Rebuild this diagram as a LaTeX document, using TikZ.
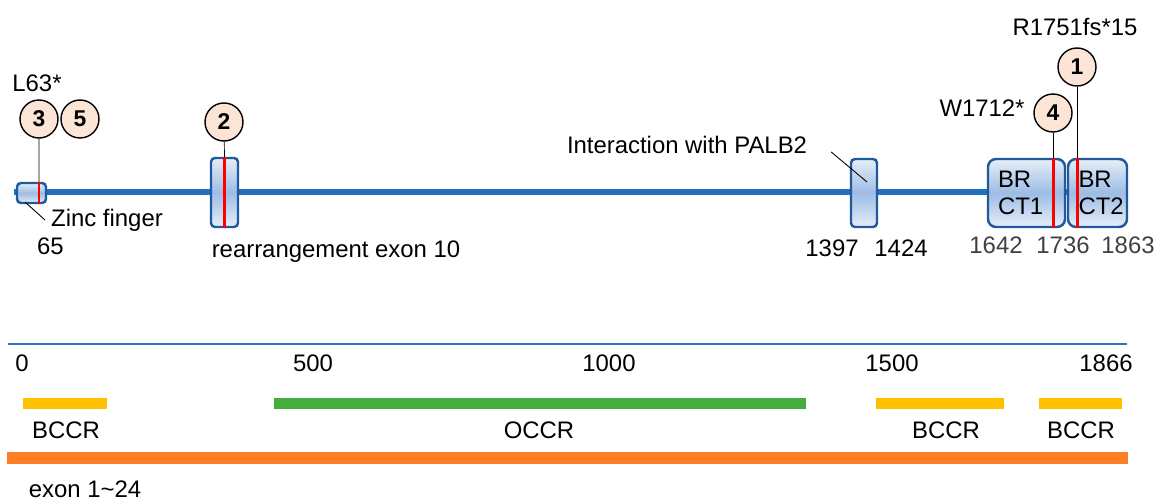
\documentclass[tikz,border=0pt]{standalone}
\usepackage{fontspec}
\setmainfont{Liberation Sans}
\usepackage{xcolor}
\usepackage{tikz}
\usetikzlibrary{positioning}
\usetikzlibrary{calc}

\definecolor{protblue}{HTML}{1F70C1}
\definecolor{domblue}{HTML}{1F5A9C}
\definecolor{domlight}{HTML}{E6EEF8}
\definecolor{dommid}{HTML}{9DBCE4}
\definecolor{peach}{HTML}{FCE4D6}
\definecolor{scaleblue}{HTML}{2E75C6}
\definecolor{bccr}{HTML}{FFC000}
\definecolor{occr}{HTML}{43AE3B}
\definecolor{exon}{HTML}{FF7F27}

\tikzset{
	dombox/.style={
			draw=domblue,
			line width=1.4pt,
			rounded corners=0.08cm,
			top color=domlight,
			bottom color=domlight,
			middle color=dommid,
			inner sep=0pt
		},
	mutation/.style={
			draw,
			circle,
			line width=0.8pt,
			fill=peach,
			minimum size=0.76cm,
			inner sep=0pt,
			font=\bfseries\fontsize{13}{15}\selectfont
		},
	hit/.style={red, line width=1.7pt},
	pointer/.style={black, line width=0.5pt},
	region/.style={line width=0.22cm},
	pos num/.style={text=black!75}
}

\begin{document}
\begin{tikzpicture}[font=\fontsize{13.6}{15.4}\selectfont]
		\useasboundingbox (0,0) rectangle (23.12,-10.02);

		% Protein backbone
		\coordinate (nterm) at (0.28,-3.84);
		\coordinate (cterm) at (22.56,-3.84);
		\draw[protblue, line width=2.85pt] (nterm) -- (cterm);

		% Domains
		\node[dombox,
			minimum width=0.58cm,
			minimum height=0.4cm
		] (zinc) at (0.63,-3.86) {};

		\node[dombox,
			minimum width=0.54cm,
			minimum height=1.38cm
		] (ex10) at (4.49,-3.85) {};

		\node[dombox,
			minimum width=0.52cm,
			minimum height=1.36cm
		] (palb) at (17.28,-3.86) {};

		\node[dombox,
			rounded corners=0.16cm,
			minimum width=1.54cm,
			minimum height=1.36cm,
			text width=1.14cm,
			align=left
		] (brct1) at (20.53,-3.86) {BR\\CT1};

		\node[dombox,
			rounded corners=0.16cm,
			minimum width=1.18cm,
			minimum height=1.36cm,
			text width=0.76cm,
			align=left
		] (brct2) at (21.95,-3.86) {BR\\CT2};

		% Mutation sites
		\coordinate (r3) at ([xshift=0.15cm]zinc.north);
		\coordinate (r2) at (ex10.north);
		\coordinate (r4) at ([xshift=0.53cm]brct1.north);
		\coordinate (r1) at ([xshift=-0.41cm]brct2.north);

		\draw[hit] (r3) -- (r3 |- zinc.south);
		\draw[hit] (r2) -- (ex10.south);
		\draw[hit] (r4) -- (r4 |- brct1.south);
		\draw[hit] (r1) -- (r1 |- brct2.south);

		\node[mutation] (m3) at (0.78,-2.38) {3};
		\node[mutation] (m5) at (1.60,-2.38) {5};
		\node[mutation] (m2) at (4.48,-2.44) {2};
		\node[mutation] (m4) at (21.06,-2.26) {4};
		\node[mutation] (m1) at (21.54,-1.34) {1};

		\draw (m3) -- (r3);
		\draw (m2) -- (r2);
		\draw (m4) -- (r4);
		\draw (m1) -- (r1);

		% Labels
		\node (l63) at (0.74,-1.66) {L63*};
		\node (w1712) at (19.64,-2.16) {W1712*};
		\node (r1751) at (21.50,-0.54) {R1751fs*15};

		\node[anchor=west] (zfl) at (0.90,-4.40) {Zinc finger};
		\draw[pointer] ([xshift=-0.13cm,yshift=-0.18cm]zinc.center) -- (zfl.west);
		\node (p65) at (1.01,-4.92) {65};

		\node (ex10l) at (6.72,-5.04) {rearrangement exon 10};

		\node (pl) at (13.74,-2.90) {Interaction with PALB2};
		\draw[pointer] ([xshift=0.36cm,yshift=-0.14cm]pl.east) -- ([xshift=0.06cm,yshift=0.22cm]palb.center);
		\node (p1397) at (16.64,-4.96) {1397};
		\node (p1424) at (18.02,-4.96) {1424};

		\node[pos num] (p1642) at (19.92,-4.90) {1642};
		\node[pos num] (p1736) at (21.26,-4.90) {1736};
		\node[pos num] (p1863) at (22.56,-4.90) {1863};

		% Scale
		\coordinate (s0) at (0.16,-6.88);
		\coordinate (s1) at (22.54,-6.88);
		\draw[scaleblue, line width=1.7pt] (s0) -- (s1);
		\node (t0) at (0.44,-7.26) {0};
		\node (t500) at (6.26,-7.26) {500};
		\node (t1000) at (12.18,-7.26) {1000};
		\node (t1500) at (17.84,-7.26) {1500};
		\node (t1866) at (22.12,-7.26) {1866};

		% Cluster regions
		\draw[region, bccr] (0.46,-8.06) -- (2.14,-8.06);
		\draw[region, occr] (5.48,-8.06) -- (16.12,-8.06);
		\draw[region, bccr] (17.52,-8.06) -- (20.08,-8.06);
		\draw[region, bccr] (20.78,-8.06) -- (22.44,-8.06);
		\node (bc1) at (1.32,-8.60) {BCCR};
		\node (oc) at (10.78,-8.60) {OCCR};
		\node (bc2) at (18.92,-8.60) {BCCR};
		\node (bc3) at (21.62,-8.60) {BCCR};

		% Exons
		\draw[exon, line width=0.24cm] (0.14,-9.16) -- (22.56,-9.16);
		\node (exl) at (1.70,-9.78) {exon 1\textasciitilde 24};
	\end{tikzpicture}
\end{document}
